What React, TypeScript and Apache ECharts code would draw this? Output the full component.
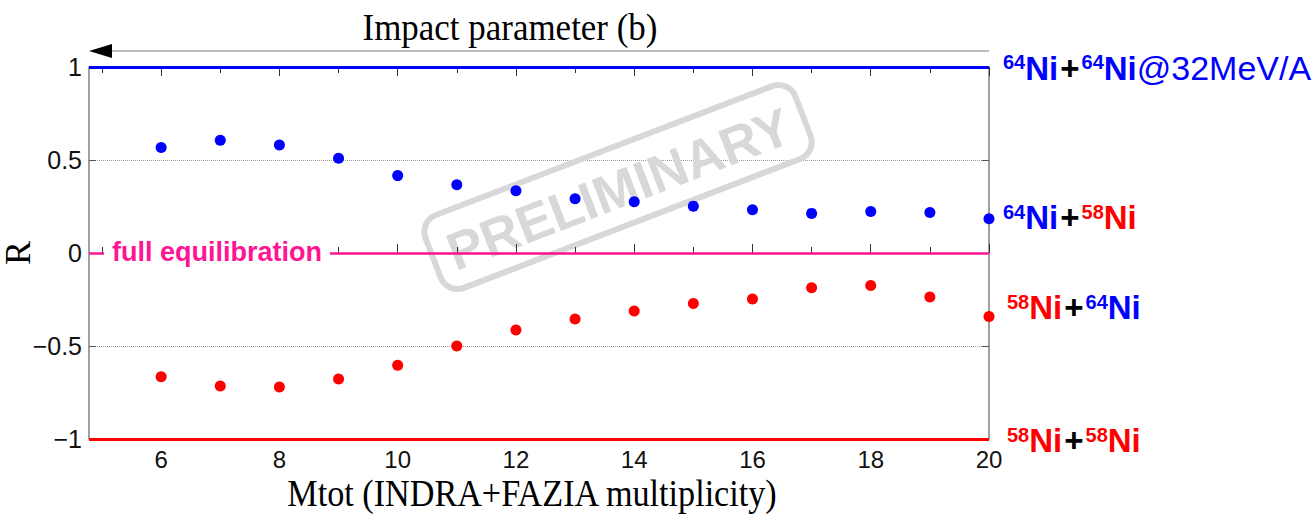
import React, { useEffect, useRef } from 'react';
import * as echarts from 'echarts';

// ---- data ----
const mtot = [6, 7, 8, 9, 10, 11, 12, 13, 14, 15, 16, 17, 18, 19, 20];
const r64on58 = [0.567, 0.606, 0.581, 0.509, 0.416, 0.367, 0.335, 0.292, 0.275, 0.252, 0.232, 0.213, 0.223, 0.218, 0.184];
const r58on64 = [-0.665, -0.715, -0.72, -0.678, -0.604, -0.5, -0.414, -0.355, -0.312, -0.272, -0.247, -0.187, -0.175, -0.236, -0.342];
const xMajorTicks = [6, 8, 10, 12, 14, 16, 18, 20];
const xMinorTicks = [5, 7, 9, 11, 13, 15, 17, 19];
const X_MIN = 4.78;
const X_MAX = 20;
const Y_MIN = -1;
const Y_MAX = 1;
const Y_STEP = 0.5;
const LEVEL_64_64 = 1;
const LEVEL_EQ = 0;
const LEVEL_58_58 = -1;

const SANS = '"Liberation Sans", Arial, sans-serif';
const SERIF = '"Liberation Serif", "Times New Roman", serif';
const BLUE = '#0000ff';
const RED = '#ff0000';
const PINK = '#ff1493';
const GREY = '#808080';

export default function App() {
  const ref = useRef<HTMLDivElement>(null);

  useEffect(() => {
    const chart = echarts.init(ref.current!, null, { renderer: 'svg' });

    const xBase = {
      type: 'value',
      min: X_MIN,
      max: X_MAX,
      gridIndex: 0,
      splitLine: { show: false },
      axisLine: { show: false },
    };
    const tick = (values: number[], len: number) => ({
      show: true,
      inside: true,
      length: len,
      customValues: values,
      lineStyle: { color: '#333', width: 1 },
    });

    const yFmt = (v: number) => (v < 0 ? '\u2212' + String(-v) : String(v));

    chart.setOption({
      animation: false,
      backgroundColor: '#ffffff',
      grid: { left: 89, top: 67, width: 900, height: 372, containLabel: false },
      xAxis: [
        {
          ...xBase,
          position: 'bottom',
          axisTick: tick(xMajorTicks, 9),
          axisLabel: {
            show: true,
            customValues: xMajorTicks,
            fontSize: 24,
            fontFamily: SANS,
            color: '#111',
            margin: 8,
          },
        },
        { ...xBase, position: 'bottom', axisTick: tick(xMinorTicks, 6), axisLabel: { show: false } },
        { ...xBase, position: 'top', axisTick: tick(xMajorTicks, 9), axisLabel: { show: false } },
        { ...xBase, position: 'top', axisTick: tick(xMinorTicks, 6), axisLabel: { show: false } },
      ],
      yAxis: [
        {
          type: 'value',
          min: Y_MIN,
          max: Y_MAX,
          interval: Y_STEP,
          position: 'left',
          axisLine: { show: true, lineStyle: { color: GREY, width: 1.5 } },
          axisTick: { show: true, inside: true, length: 7, lineStyle: { color: '#555' } },
          axisLabel: { fontSize: 25, fontFamily: SANS, color: '#111', margin: 7, formatter: yFmt },
          splitLine: { show: true, lineStyle: { color: '#999', type: 'dotted', width: 1 } },
        },
        {
          type: 'value',
          min: Y_MIN,
          max: Y_MAX,
          interval: Y_STEP,
          position: 'right',
          axisLine: { show: true, lineStyle: { color: GREY, width: 1.5 } },
          axisTick: { show: true, inside: true, length: 7, lineStyle: { color: '#555' } },
          axisLabel: { show: false },
          splitLine: { show: false },
        },
      ],
      series: [
        {
          type: 'scatter',
          name: '64Ni+58Ni',
          xAxisIndex: 0,
          yAxisIndex: 0,
          data: mtot.map((x, i) => [x, r64on58[i]]),
          symbol: 'circle',
          symbolSize: 11,
          itemStyle: { color: BLUE, opacity: 1 },
          clip: false,
          z: 5,
          markLine: {
            silent: true,
            symbol: ['none', 'none'],
            label: { show: false },
            data: [
              { yAxis: LEVEL_64_64, lineStyle: { color: BLUE, width: 3, type: 'solid', opacity: 1 } },
              { yAxis: LEVEL_EQ, lineStyle: { color: PINK, width: 2.5, type: 'solid', opacity: 1 } },
            ],
          },
        },
        {
          type: 'scatter',
          name: '58Ni+64Ni',
          xAxisIndex: 0,
          yAxisIndex: 0,
          data: mtot.map((x, i) => [x, r58on64[i]]),
          symbol: 'circle',
          symbolSize: 11,
          itemStyle: { color: RED, opacity: 1 },
          clip: false,
          z: 5,
          markLine: {
            silent: true,
            symbol: ['none', 'none'],
            label: { show: false },
            data: [{ yAxis: LEVEL_58_58, lineStyle: { color: RED, width: 3, type: 'solid', opacity: 1 } }],
          },
        },
      ],
    });

    const p0 = chart.convertToPixel({ xAxisIndex: 0, yAxisIndex: 0 }, [X_MIN, LEVEL_EQ]) as number[];
    const pTop = chart.convertToPixel({ xAxisIndex: 0, yAxisIndex: 0 }, [X_MAX, LEVEL_64_64]) as number[];
    const pBot = chart.convertToPixel({ xAxisIndex: 0, yAxisIndex: 0 }, [X_MAX, LEVEL_58_58]) as number[];

    const rich = {
      sb: { fontSize: 20, fontWeight: 'bold', fontFamily: SANS, fill: BLUE, verticalAlign: 'top', padding: [1, 0, 0, 0] },
      sr: { fontSize: 20, fontWeight: 'bold', fontFamily: SANS, fill: RED, verticalAlign: 'top', padding: [1, 0, 0, 0] },
      b: { fontSize: 33, fontWeight: 'bold', fontFamily: SANS, fill: BLUE },
      r: { fontSize: 33, fontWeight: 'bold', fontFamily: SANS, fill: RED },
      k: { fontSize: 33, fontWeight: 'bold', fontFamily: SANS, fill: '#000', padding: [0, 2, 0, 2] },
      bn: { fontSize: 34, fontWeight: 'normal', fontFamily: SANS, fill: BLUE },
    };
    const rightLabel = (text: string, x: number, y: number) => ({
      type: 'text',
      x,
      y,
      z: 10,
      style: { text, rich, verticalAlign: 'middle', align: 'left' },
    });

    chart.setOption({
      graphic: [
        // PRELIMINARY stamp
        {
          type: 'group',
          x: 618,
          y: 187,
          rotation: (21 * Math.PI) / 180,
          z: 0,
          children: [
            {
              type: 'rect',
              shape: { x: -198, y: -39, width: 396, height: 78, r: 18 },
              style: { fill: 'none', stroke: '#d8d8d8', lineWidth: 6 },
            },
            {
              type: 'text',
              x: 0,
              y: 2,
              style: {
                text: 'PRELIMINARY',
                fontSize: 53,
                fontWeight: 'bold',
                fontFamily: SANS,
                fill: '#d8d8d8',
                align: 'center',
                verticalAlign: 'middle',
              },
            },
          ],
        },
        // full equilibration label
        {
          type: 'text',
          x: p0[0] + 15,
          y: p0[1] - 1,
          z: 10,
          style: {
            text: 'full equilibration',
            fontSize: 27,
            fontWeight: 'bold',
            fontFamily: SANS,
            fill: PINK,
            backgroundColor: '#fff',
            padding: [2, 8, 2, 8],
            align: 'left',
            verticalAlign: 'middle',
          },
        },
        // impact parameter arrow
        {
          type: 'line',
          z: 10,
          shape: { x1: pTop[0], y1: 51, x2: 105, y2: 51 },
          style: { stroke: '#777', lineWidth: 1 },
        },
        {
          type: 'polygon',
          z: 10,
          shape: { points: [[89, 51], [112, 44], [112, 58]] },
          style: { fill: '#000' },
        },
        {
          type: 'text',
          x: 510,
          y: 27,
          z: 10,
          scaleX: 0.92,
          style: {
            text: 'Impact parameter (b)',
            fontSize: 38,
            fontFamily: SERIF,
            fill: '#000',
            align: 'center',
            verticalAlign: 'middle',
          },
        },
        // axis titles
        {
          type: 'text',
          x: 532,
          y: 493,
          z: 10,
          scaleX: 0.9,
          style: {
            text: 'Mtot (INDRA+FAZIA multiplicity)',
            fontSize: 38,
            fontFamily: SERIF,
            fill: '#000',
            align: 'center',
            verticalAlign: 'middle',
          },
        },
        {
          type: 'text',
          x: 18,
          y: 253,
          z: 10,
          rotation: Math.PI / 2,
          style: {
            text: 'R',
            fontSize: 36,
            fontFamily: SERIF,
            fill: '#000',
            align: 'center',
            verticalAlign: 'middle',
          },
        },
        // right-hand reaction labels
        rightLabel('{sb|64}{b|Ni}{k|+}{sb|64}{b|Ni}{bn|@32MeV/A}', 1003, pTop[1] + 1),
        rightLabel('{sb|64}{b|Ni}{k|+}{sr|58}{r|Ni}', 1003, 217),
        rightLabel('{sr|58}{r|Ni}{k|+}{sb|64}{b|Ni}', 1007, 307),
        rightLabel('{sr|58}{r|Ni}{k|+}{sr|58}{r|Ni}', 1007, pBot[1] + 1),
      ],
    });

    return () => chart.dispose();
  }, []);

  return (
    <div
      ref={ref}
      style={{ position: 'fixed', left: 0, top: 0, width: 1316, height: 520, background: '#fff' }}
    />
  );
}
